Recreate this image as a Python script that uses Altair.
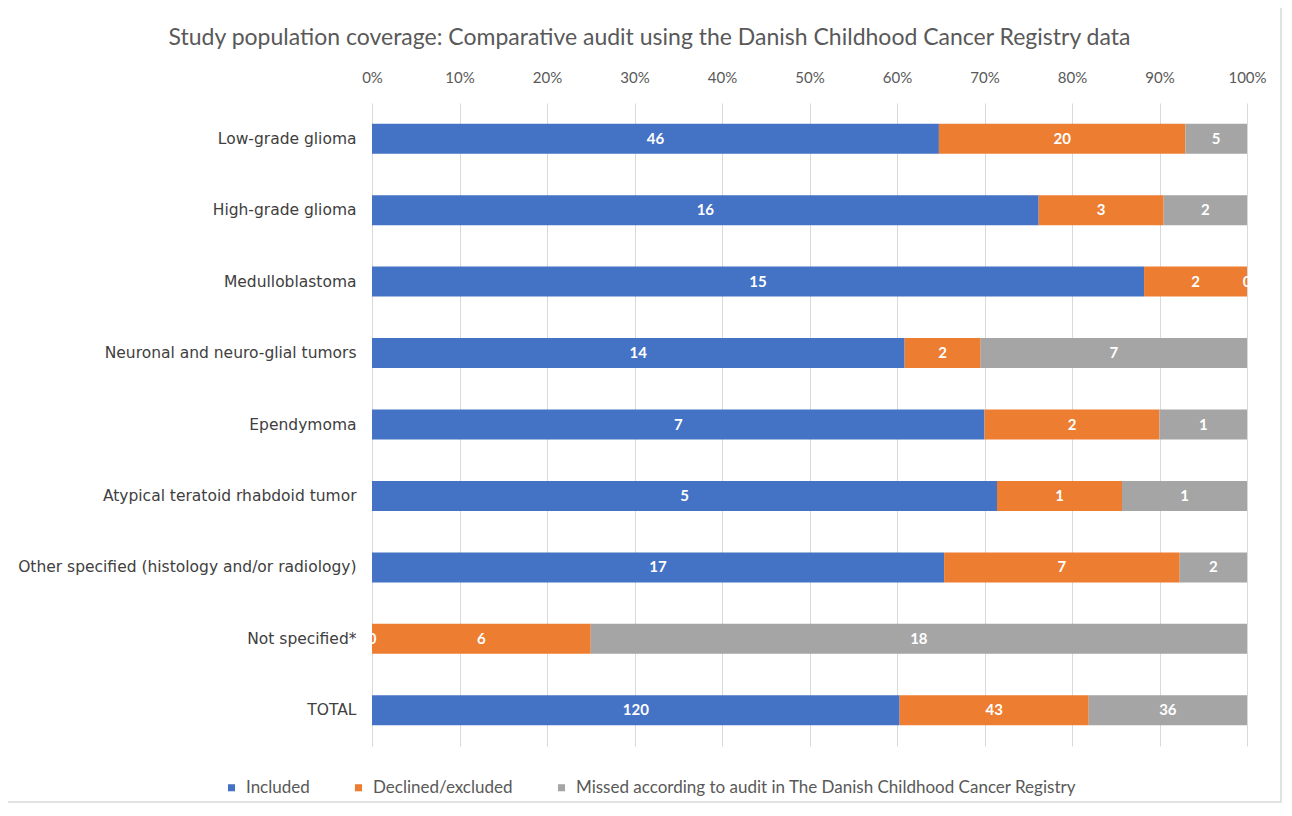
import altair as alt
import pandas as pd

categories = [
    "Low-grade glioma",
    "High-grade glioma",
    "Medulloblastoma",
    "Neuronal and neuro-glial tumors",
    "Ependymoma",
    "Atypical teratoid rhabdoid tumor",
    "Other specified (histology and/or radiology)",
    "Not specified*",
    "TOTAL",
]
series = [
    "Included",
    "Declined/excluded",
    "Missed according to audit in The Danish Childhood Cancer Registry",
]
included = [46, 16, 15, 14, 7, 5, 17, 0, 120]
declined = [20, 3, 2, 2, 2, 1, 7, 6, 43]
missed = [5, 2, 0, 7, 1, 1, 2, 18, 36]
colors = ["#4472C4", "#ED7D31", "#A5A5A5"]
tick_values = [i / 10 for i in range(11)]

rows = []
for si, vals in enumerate([included, declined, missed]):
    for c, v in zip(categories, vals):
        rows.append({"category": c, "series": series[si], "order": si, "value": v})
df = pd.DataFrame(rows)

base = alt.Chart(df).transform_stack(
    stack="value",
    groupby=["category"],
    as_=["x0", "x1"],
    offset="normalize",
    sort=[alt.SortField("order")],
).transform_calculate(mid="(datum.x0 + datum.x1) / 2")

y_enc = alt.Y(
    "category:N",
    sort=categories,
    title=None,
    scale=alt.Scale(paddingInner=0.58, paddingOuter=0.29),
    axis=alt.Axis(
        domain=False,
        ticks=False,
        labelPadding=16,
        labelFont="DejaVu Sans",
        labelFontSize=15.5,
        labelColor="#404040",
        labelLimit=400,
    ),
)

bars = base.mark_bar().encode(
    x=alt.X(
        "x0:Q",
        scale=alt.Scale(domain=[0, 1], nice=False),
        title=None,
        axis=alt.Axis(
            orient="top",
            format=".0%",
            values=tick_values,
            grid=True,
            gridColor="#D9D9D9",
            domain=False,
            ticks=False,
            labelFlush=False,
            labelOverlap=False,
            labelPadding=18,
            labelFont="Lato",
            labelFontSize=15,
            labelColor="#595959",
        ),
    ),
    x2="x1:Q",
    y=y_enc,
    color=alt.Color(
        "series:N",
        scale=alt.Scale(domain=series, range=colors),
        sort=series,
        legend=alt.Legend(
            title=None,
            orient="none",
            direction="horizontal",
            legendX=-149,
            legendY=676,
            symbolType="square",
            symbolSize=50,
            symbolStrokeWidth=0,
            labelFont="Lato",
            labelFontSize=17,
            labelColor="#595959",
            labelOffset=6,
            columnPadding=40,
            labelLimit=700,
        ),
    ),
    order=alt.Order("order:Q"),
)

labels = base.mark_text(
    color="white", fontWeight="bold", font="Lato", fontSize=15
).encode(
    x=alt.X("mid:Q"),
    y=alt.Y("category:N", sort=categories),
    text=alt.Text("value:Q"),
)

border = alt.Chart(alt.Data(values=[{}])).mark_rect(
    fillOpacity=0, stroke="#D9D9D9", strokeWidth=1.5
).encode(
    x=alt.value(-366), x2=alt.value(909), y=alt.value(-97), y2=alt.value(699)
)

chart = alt.layer(border, bars, labels).properties(
    width=875,
    height=643,
    title=alt.TitleParams(
        "Study population  coverage: Comparative audit using the  Danish Childhood Cancer Registry data",
        font="Lato",
        fontSize=23,
        fontWeight="normal",
        color="#595959",
        anchor="middle",
        dx=-160,
        offset=-45,
    ),
    autosize=alt.AutoSizeParams(type="none"),
    padding={"left": 364, "top": 95, "right": 36, "bottom": 58},
).configure_view(stroke=None)

chart.save("out.html", embed_options={"renderer": "svg", "actions": False})
